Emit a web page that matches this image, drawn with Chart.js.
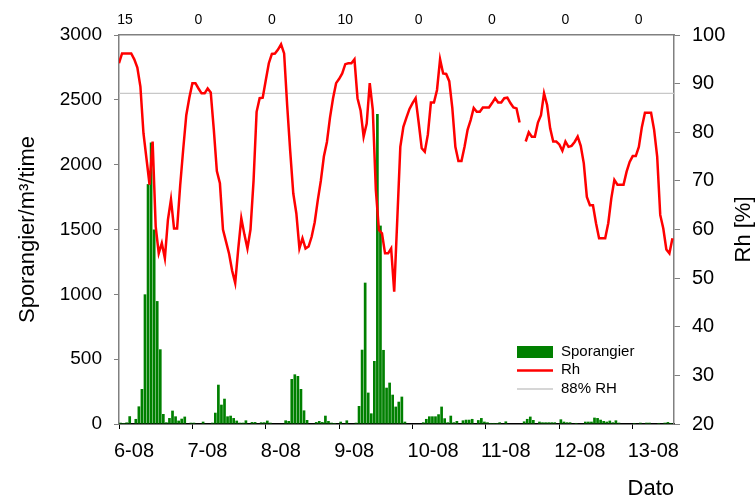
<!DOCTYPE html>
<html>
<head>
<meta charset="utf-8">
<script src="https://cdn.jsdelivr.net/npm/chart.js@4.4.1/dist/chart.umd.min.js"></script>
<style>
  html, body { margin: 0; padding: 0; background: #fff; }
  canvas { display: block; }
</style>
</head>
<body>
<canvas id="chart" width="755" height="497"></canvas>
<script>
// Datoer (en etiket pr. døgn, 24 timer)
const dayLabels = ['6-08', '7-08', '8-08', '9-08', '10-08', '11-08', '12-08', '13-08'];
// Tal øverst over hvert døgn
const dailyCounts = ['15', '0', '0', '10', '0', '0', '0', '0'];

// Sporangier/m3/time, timeværdier fra 6-08 kl. 00
const sporangier = [
  10, 8, 12, 60, 0, 39, 136, 270, 1000, 1850,
  2170, 1500, 948, 576, 77, 13, 46, 103, 59, 26,
  41, 57, 0, 10, 10, 0, 0, 18, 0, 0,
  10, 87, 303, 149, 195, 59, 64, 46, 26, 10,
  10, 28, 0, 15, 15, 0, 13, 13, 26, 10,
  0, 0, 0, 0, 28, 23, 347, 383, 370, 270,
  105, 31, 0, 0, 15, 23, 15, 64, 23, 10,
  8, 0, 18, 0, 28, 0, 0, 10, 139, 573,
  1090, 242, 82, 486, 2390, 1530, 571, 280, 319, 226,
  134, 172, 211, 18, 0, 0, 0, 0, 0, 13,
  39, 59, 59, 59, 75, 134, 44, 13, 64, 13,
  23, 0, 28, 33, 33, 39, 0, 30, 46, 18,
  13, 8, 8, 8, 13, 0, 20, 0, 0, 0,
  0, 0, 20, 39, 57, 31, 0, 18, 13, 13,
  13, 13, 13, 0, 36, 18, 13, 13, 0, 8,
  0, 0, 18, 18, 18, 49, 46, 33, 23, 18,
  26, 13, 28, 10, 0, 0, 0, 0, 8, 0,
  10, 0, 10, 10, 0, 0, 8, 0, 10, 15,
  8
];

// Relativ luftfugtighed (%), timeværdier, null = manglende måling
const rh = [
  94.2, 96.2, 96.2, 96.2, 96.2, 95.0, 93.3, 89.4, 79.8, 74.5,
  69.2, 78.1, 60.6, 55.1, 57.2, 54.1, 62.0, 66.2, 60.2, 60.2,
  69.0, 76.5, 83.5, 87.1, 90.1, 90.1, 89.0, 88.0, 88.0, 89.0,
  88.2, 80.6, 72.0, 69.5, 60.0, 57.5, 55.0, 51.5, 49.0, 56.0,
  62.3, 59.0, 56.1, 60.0, 70.0, 84.2, 87.0, 87.1, 90.7, 94.2,
  96.1, 96.2, 97.0, 98.1, 96.2, 85.5, 76.0, 67.4, 63.3, 56.1,
  58.2, 56.1, 56.5, 58.5, 61.5, 66.0, 70.0, 75.0, 78.0, 83.0,
  87.0, 90.1, 91.0, 92.1, 94.0, 94.2, 94.2, 95.0, 87.0, 84.5,
  79.1, 81.8, 90.1, 84.6, 68.1, 59.9, 59.2, 55.1, 55.1, 56.1,
  47.2, 62.0, 77.0, 81.1, 83.0, 84.8, 86.0, 87.0, 82.0, 76.7,
  76.0, 79.5, 86.1, 86.1, 88.7, 95.0, 92.1, 92.0, 90.5, 85.0,
  77.0, 74.1, 74.1, 77.0, 80.5, 82.5, 85.0, 84.2, 84.2, 85.1,
  85.1, 85.1, 86.0, 87.0, 86.1, 86.1, 87.0, 87.1, 86.0, 85.1,
  84.9, 82.0, null, 78.1, 80.0, 79.1, 79.1, 82.0, 83.5, 88.0,
  85.6, 80.8, 78.1, 78.1, 77.5, 76.2, 78.1, 77.0, 77.2, 78.0,
  79.1, 77.2, 73.6, 66.7, 65.0, 65.0, 61.3, 58.2, 58.2, 58.2,
  61.3, 66.4, 70.2, 69.2, 69.2, 69.2, 71.9, 73.9, 75.1, 75.1,
  77.0, 81.1, 84.0, 84.0, 84.0, 80.5, 75.0, 63.0, 60.2, 55.9,
  55.1, 58.2
];

const rhThreshold = 88;
const lastHour = 181.5;

const FONT = '"Liberation Sans", Arial, Helvetica, sans-serif';
Chart.defaults.font.family = FONT;
Chart.defaults.color = '#000';

// Titel på højre akse (læses nedefra og op) + forklaring
const extraText = {
  id: 'extraText',
  afterDraw(chart) {
    const { ctx, chartArea } = chart;
    ctx.save();
    ctx.fillStyle = '#000';
    ctx.font = '22px ' + FONT;
    ctx.textAlign = 'center';
    ctx.textBaseline = 'middle';
    ctx.translate(744, (chartArea.top + chartArea.bottom) / 2);
    ctx.rotate(-Math.PI / 2);
    ctx.fillText('Rh [%]', 0, 0);
    ctx.restore();

    // Forklaring
    const ds = chart.data.datasets;
    const x0 = 517, w = 36, tx = 561;
    ctx.save();
    ctx.font = '15px ' + FONT;
    ctx.textAlign = 'left';
    ctx.textBaseline = 'middle';
    ctx.fillStyle = ds[0].backgroundColor;
    ctx.fillRect(x0, 346, w, 12);
    ctx.fillStyle = '#000';
    ctx.fillText(ds[0].label, tx, 352);

    ctx.strokeStyle = ds[1].borderColor;
    ctx.lineWidth = 2.5;
    ctx.beginPath(); ctx.moveTo(x0, 370.5); ctx.lineTo(x0 + w, 370.5); ctx.stroke();
    ctx.fillText(ds[1].label, tx, 370);

    ctx.strokeStyle = ds[2].borderColor;
    ctx.lineWidth = 1.5;
    ctx.beginPath(); ctx.moveTo(x0, 389); ctx.lineTo(x0 + w, 389); ctx.stroke();
    ctx.fillText(ds[2].label, tx, 389);
    ctx.restore();
  }
};

const ctx = document.getElementById('chart').getContext('2d');
new Chart(ctx, {
  type: 'bar',
  data: {
    datasets: [
      {
        type: 'bar',
        label: 'Sporangier',
        data: sporangier.map((v, i) => ({ x: i + 0.5, y: v })),
        backgroundColor: '#008000',
        borderWidth: 0,
        barPercentage: 1.0,
        categoryPercentage: 0.88,
        xAxisID: 'x',
        yAxisID: 'y',
        order: 3
      },
      {
        type: 'line',
        label: 'Rh',
        data: rh.map((v, i) => ({ x: i, y: v })),
        borderColor: '#ff0000',
        borderWidth: 2.5,
        pointRadius: 0,
        tension: 0,
        spanGaps: false,
        xAxisID: 'x',
        yAxisID: 'y2',
        order: 1
      },
      {
        type: 'line',
        label: '88% RH',
        data: [{ x: 0, y: rhThreshold }, { x: lastHour, y: rhThreshold }],
        borderColor: '#c8c8c8',
        borderWidth: 1.2,
        pointRadius: 0,
        xAxisID: 'x',
        yAxisID: 'y2',
        order: 2
      }
    ]
  },
  options: {
    responsive: false,
    animation: false,
    layout: { padding: 0 },
    plugins: {
      legend: { display: false },
      tooltip: { enabled: false }
    },
    scales: {
      x: {
        type: 'linear',
        position: 'bottom',
        min: 0,
        max: lastHour,
        offset: false,
        afterBuildTicks: s => { s.ticks = dayLabels.map((d, i) => ({ value: i * 24 })); },
        afterFit: s => { s.height = 73; },
        ticks: {
          callback: (v, i) => dayLabels[i],
          align: 'start',
          labelOffset: -5,
          padding: 10,
          autoSkip: false,
          maxRotation: 0,
          font: { size: 20 }
        },
        grid: { drawOnChartArea: false, tickLength: 5, color: '#000', offset: false },
        border: { color: '#000', width: 1.5 },
        title: {
          display: true,
          text: 'Dato',
          align: 'end',
          font: { size: 22, lineHeight: 0.7 },
          padding: { top: 0, bottom: 0 }
        }
      },
      x2: {
        type: 'linear',
        position: 'top',
        min: 0,
        max: lastHour,
        offset: false,
        afterBuildTicks: s => { s.ticks = dailyCounts.map((d, i) => ({ value: i * 24 })); },
        afterFit: s => { s.height = 35; },
        ticks: {
          callback: (v, i) => dailyCounts[i],
          labelOffset: 6,
          padding: 6,
          autoSkip: false,
          maxRotation: 0,
          font: { size: 14 }
        },
        grid: { display: false, drawTicks: false },
        border: { color: '#808080', width: 1.5 }
      },
      y: {
        position: 'left',
        min: 0,
        max: 3000,
        afterFit: s => { s.width = 119; },
        ticks: { stepSize: 500, padding: 12, font: { size: 19 }, callback: v => String(v) },
        grid: { drawOnChartArea: false, tickLength: 5, color: '#808080' },
        border: { color: '#808080', width: 1.5 },
        title: {
          display: true,
          text: 'Sporangier/m³/time',
          font: { size: 22, lineHeight: 1 },
          padding: { top: 17, bottom: 0 }
        }
      },
      y2: {
        position: 'right',
        min: 20,
        max: 100,
        afterFit: s => { s.width = 81; },
        ticks: { stepSize: 10, padding: 12, font: { size: 20 }, callback: v => String(v) },
        grid: { drawOnChartArea: false, tickLength: 6, color: '#808080' },
        border: { color: '#808080', width: 1.5 }
      }
    }
  },
  plugins: [extraText]
});
</script>
</body>
</html>
